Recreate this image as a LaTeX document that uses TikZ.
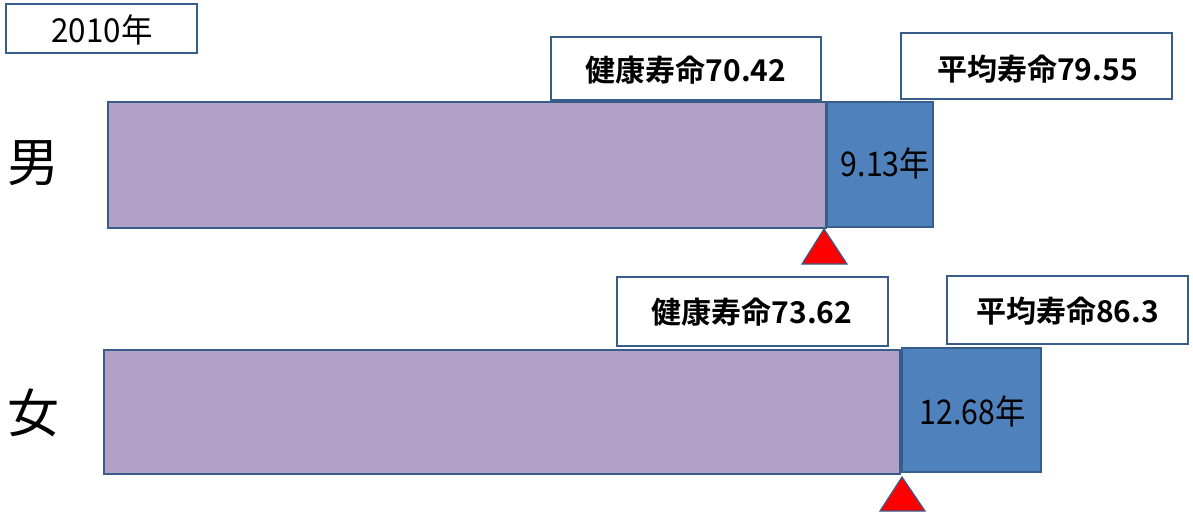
\documentclass[tikz,border=0pt]{standalone}
\usepackage{fontspec}
\newfontfamily\jp{Noto Sans CJK JP}
\newfontfamily\jpb{Noto Sans CJK JP Bold}
\definecolor{edge}{RGB}{56,93,138}
\definecolor{lav}{RGB}{177,161,199}
\definecolor{steel}{RGB}{79,129,189}
\tikzset{
  frame/.style={draw=edge, line width=1.6pt, fill=white},
  healthy/.style={draw=edge, line width=1.6pt, fill=lav},
  gap/.style={draw=edge, line width=1.6pt, fill=steel},
  mark tri/.style={draw=edge, line width=1.2pt, fill=red},
  lbl/.style={font=\jpb\fontsize{30}{30}\selectfont, inner sep=0pt},
  gaplbl/.style={font=\jp\fontsize{34}{34}\selectfont, inner sep=0pt, xscale=0.89},
  sexlbl/.style={font=\jp\fontsize{52}{52}\selectfont, inner sep=0pt},
}
\begin{document}
\begin{tikzpicture}[x=1pt,y=-1pt]
\useasboundingbox (0,0) rectangle (1193,512);
% year
\draw[frame] (6,4) rectangle (197,53);
\node[font=\jp\fontsize{33}{33}\selectfont, inner sep=0pt, xscale=0.95] (yr) at (102,30) {2010年};
% male
\node[sexlbl] (m) at (33,163) {男};
\draw[healthy] (108,102) rectangle (826,228);
\draw[gap] (827,102) rectangle (933,227);
\node[gaplbl] (mg) at (885.5,164) {9.13年};
\draw[frame] (551,37) rectangle (821,100);
\node[lbl] (mh) at (686,70) {健康寿命70.42};
\draw[frame] (901,33) rectangle (1172,99);
\node[lbl] (ma) at (1037.5,69) {平均寿命79.55};
\draw[mark tri] (824,229) -- (847,264) -- (802,264) -- cycle;
% female
\node[sexlbl] (f) at (34,413) {女};
\draw[healthy] (104,350) rectangle (900,474);
\draw[gap] (902,348) rectangle (1041,472);
\node[gaplbl] (fg) at (972.5,412) {12.68年};
\draw[frame] (617,277) rectangle (888,346);
\node[lbl] (fh) at (752,312) {健康寿命73.62};
\draw[frame] (947,276) rectangle (1188,344);
\node[lbl] (fa) at (1067.5,311) {平均寿命86.3};
\draw[mark tri] (902,477) -- (925,511) -- (880,511) -- cycle;
\end{tikzpicture}
\end{document}
